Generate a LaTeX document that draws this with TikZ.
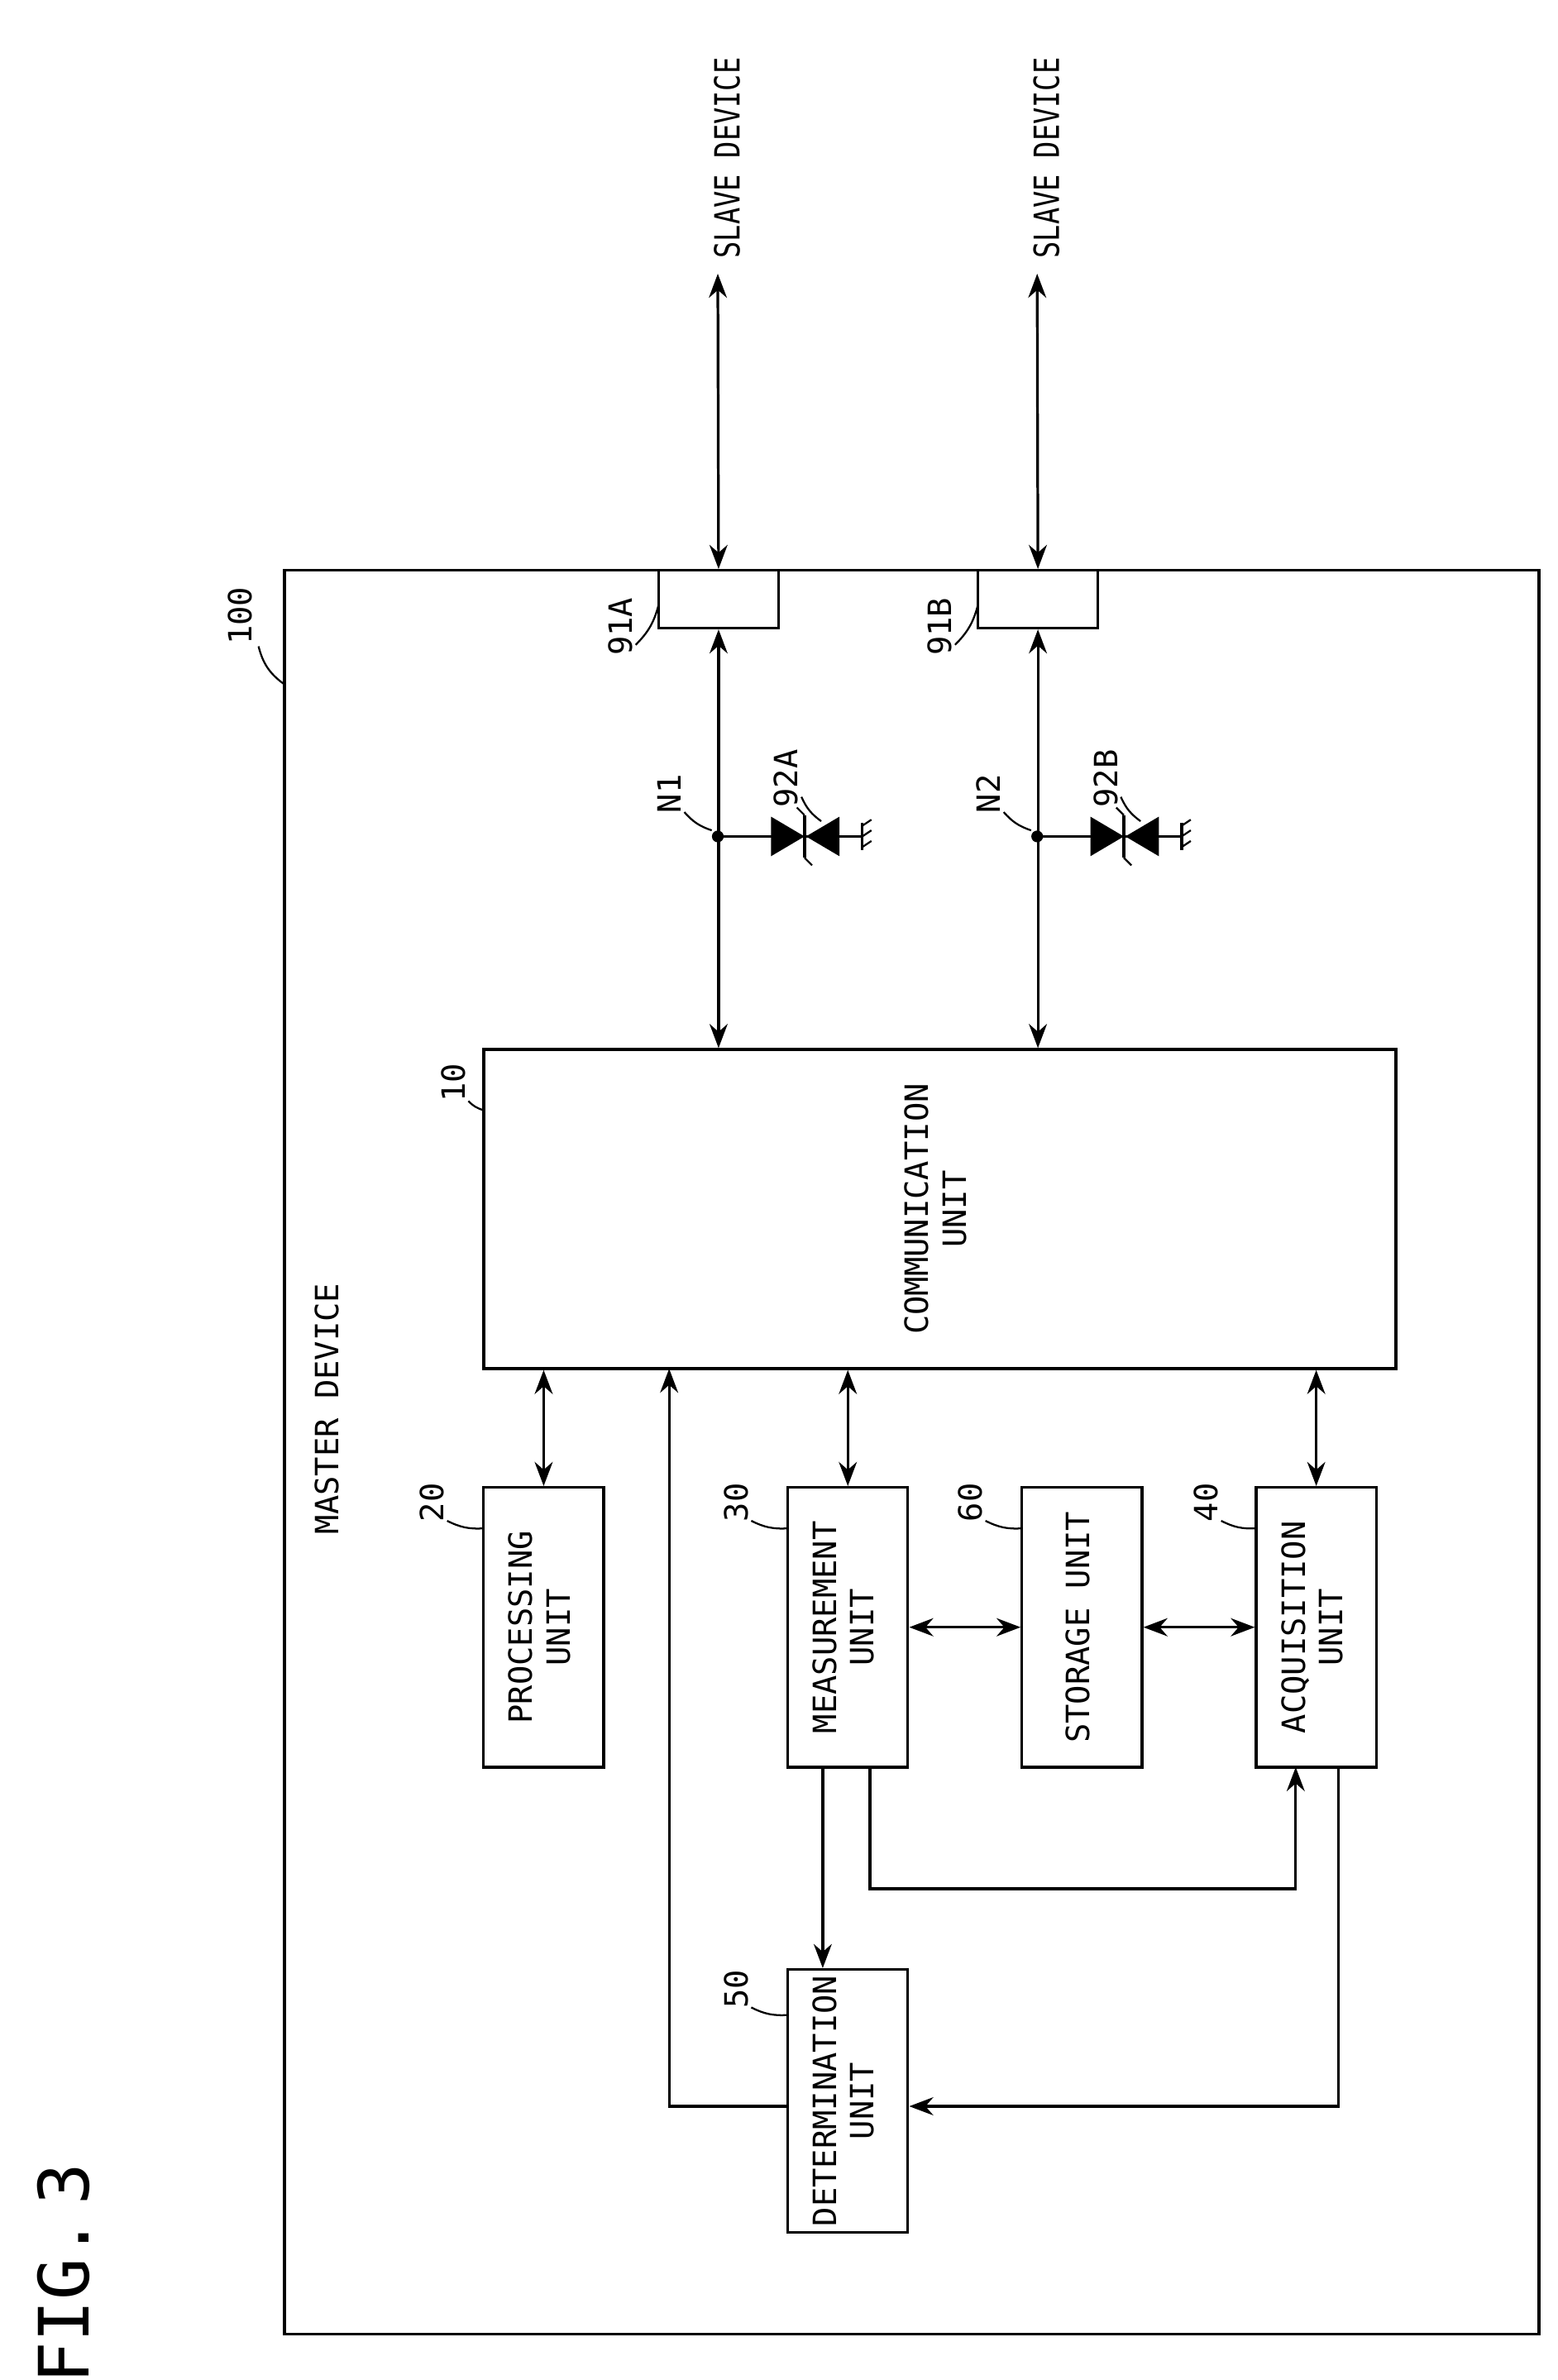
\documentclass[tikz,border=0pt]{standalone}
\usepackage{fontspec}
\setmainfont{DejaVu Sans Mono}
\usetikzlibrary{arrows.meta,calc}
\newcommand{\vtxt}[1]{\rotatebox{90}{\begin{tabular}{@{}c@{}}#1\end{tabular}}}
\tikzset{
  box/.style={draw, line width=1pt, inner sep=0pt},
  link/.style={line width=1pt, {Stealth[length=9pt]}-{Stealth[length=9pt]}},
  flow/.style={line width=1pt, -{Stealth[length=9pt]}},
  lbl/.style={font=\fontsize{12}{13}\selectfont, rotate=90},
  lead/.style={line width=0.7pt}
}
\begin{document}
\begin{tikzpicture}[x=0.02cm, y=-0.02cm, font=\fontsize{12}{14}\selectfont]
    \useasboundingbox (0,0) rectangle (1024,1565);

    \node[box, minimum width=16.5cm, minimum height=23.2cm] (master) at (599.5,955) {};
    \node[box, minimum width=12cm, minimum height=4.2cm] (comm) at (618,795) {\vtxt{COMMUNICATION\\UNIT}};
    \node[box, minimum width=1.58cm, minimum height=3.68cm] (proc) at (357.5,1070) {\vtxt{PROCESSING\\UNIT}};
    \node[box, minimum width=1.58cm, minimum height=3.68cm] (meas) at (557.5,1070) {\vtxt{MEASUREMENT\\UNIT}};
    \node[box, minimum width=1.58cm, minimum height=3.68cm] (stor) at (711.5,1070) {\vtxt{STORAGE UNIT}};
    \node[box, minimum width=1.58cm, minimum height=3.68cm] (acq) at (865.5,1070) {\vtxt{ACQUISITION\\UNIT}};
    \node[box, minimum width=1.58cm, minimum height=3.46cm] (det) at (557.5,1381.5) {\vtxt{DETERMINATION\\UNIT}};
    \node[box, minimum width=1.58cm, minimum height=0.76cm] (portA) at (472.5,394) {};
    \node[box, minimum width=1.58cm, minimum height=0.76cm] (portB) at (682.5,394) {};

    % slave side
    \coordinate (slvA) at (472,180);
    \coordinate (slvB) at (682,180);
    \draw[link] (portA.north) -- (slvA);
    \draw[link] (portB.north) -- (slvB);
    \node[lbl, anchor=west, font=\fontsize{13}{14}\selectfont, inner sep=1pt] (txtA) at (478,172) {\scalebox{0.8}[1]{SLAVE DEVICE}};
    \node[lbl, anchor=west, font=\fontsize{13}{14}\selectfont, inner sep=1pt] (txtB) at (688,172) {\scalebox{0.8}[1]{SLAVE DEVICE}};

    % port to communication unit
    \draw[link] (portA.south) -- (portA.south |- comm.north);
    \draw[link] (portB.south) -- (portB.south |- comm.north);

    % protection diodes
    \foreach \n/\x in {1/472, 2/682} {
        \coordinate (N\n) at (\x,550);
        \fill (N\n) circle (2.2pt);
        \draw[line width=1pt] (N\n) -- ++(95,0);
        \fill ($(N\n)+(35,-13)$) -- ($(N\n)+(35,13)$) -- ($(N\n)+(57,0)$) -- cycle;
        \fill ($(N\n)+(80,-13)$) -- ($(N\n)+(80,13)$) -- ($(N\n)+(58,0)$) -- cycle;
        \draw[line width=1.2pt] ($(N\n)+(57,-14)$) -- ($(N\n)+(57,14)$);
        \draw[lead] ($(N\n)+(57,-14)$) -- ++(-5,-5);
        \draw[lead] ($(N\n)+(57,14)$) -- ++(5,5);
        \draw[line width=1pt] ($(N\n)+(95,-9)$) -- ($(N\n)+(95,9)$);
        \foreach \d in {-7,0,7}
            \draw[lead] ($(N\n)+(95,\d)$) -- ++(6,-4);
    }

    % internal links
    \draw[link] (proc.north |- comm.south) -- (proc.north);
    \draw[link] (meas.north |- comm.south) -- (meas.north);
    \draw[link] (acq.north |- comm.south) -- (acq.north);
    \draw[link] (meas.east) -- (stor.west);
    \draw[link] (stor.east) -- (acq.west);
    \coordinate (mOut) at (572,1162);
    \coordinate (aIn) at (852,1162);
    \draw[flow] (mOut) -- (572,1242) -- (852,1242) -- (aIn);
    \coordinate (mDet) at (541,1162);
    \draw[flow] (mDet) -- (mDet |- det.north);
    \coordinate (aOut) at (880,1162);
    \coordinate (dIn) at (880,1385);
    \draw[flow] (aOut) -- (dIn) -- (det.east |- dIn);
    \coordinate (cIn) at (440,900);
    \coordinate (dOut) at (440,1385);
    \draw[flow] (det.west |- dOut) -- (dOut) -- (cIn);

    % labels
    \node[lbl] (l100) at (158,405) {100};
    \draw[lead] (170,425) to[bend right=20] (187,450);
    \node[lbl, anchor=west] (lmaster) at (215,1015) {MASTER DEVICE};
    \node[lbl, font=\fontsize{26}{28}\selectfont] (fig) at (42,1495) {FIG.\,3};
    \foreach \t/\x/\y/\ex/\ey in {10/298/712/318/730, 20/284/988/318/1005, 30/484/988/518/1005,
        60/638/988/672/1005, 40/793/988/826/1005, 50/484/1308/518/1325,
        91A/408/412/433/398, 91B/618/412/643/398, N1/440/522/468/546, N2/650/522/678/546,
        92A/517/512/540/540, 92B/727/512/750/540} {
        \node[lbl] (t\t) at (\x,\y) {\t};
        \draw[lead] ($(\x,\y)+(10,12)$) to[bend right=15] (\ex,\ey);
    }
\end{tikzpicture}
\end{document}
